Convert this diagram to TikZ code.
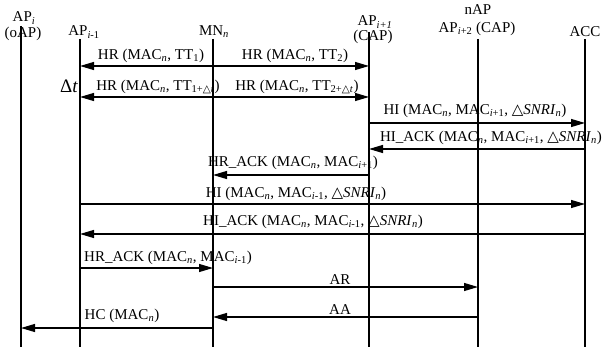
\documentclass[tikz,border=0pt]{standalone}
\usepackage{fontspec}
\setmainfont{Liberation Serif}
\newfontfamily\symf{DejaVu Sans}
\usetikzlibrary{arrows.meta}
\newcommand\lo[1]{\textsubscript{#1}}
\newcommand\tri{{\symf △}}
\begin{document}
\begin{tikzpicture}[x=1pt,y=-1pt,
  font=\fontsize{15}{17}\selectfont,
  life/.style={line width=1.1pt},
  msg/.style={line width=1.1pt,-{Triangle[length=14pt,width=8pt]}},
  bimsg/.style={line width=1.1pt,{Triangle[length=14pt,width=8pt]}-{Triangle[length=14pt,width=8pt]}},
  lbl/.style={inner sep=0pt},
  head/.style={inner sep=0pt}]
\useasboundingbox (0,0) rectangle (608,350);
% lifeline heads
\node[head] (hAi) at (24,18) {AP\lo{\textit{i}}};
\node[head] (hAi2) at (23,34) {(oAP)};
\node[head] (hAim) at (84,32) {AP\lo{\textit{i}-1}};
\node[head] (hMN) at (214,32) {MN\lo{\textit{n}}};
\node[head] (hAip) at (375,22) {AP\lo{\textit{i+1}}};
\node[head] (hAip2) at (373,37) {(CAP)};
\node[head] (hnAP) at (478,10) {nAP};
\node[head] (hnAP2) at (477,29) {AP\lo{\textit{i}+2} (CAP)};
\node[head] (hACC) at (585,32) {ACC};
% lifelines
\coordinate (Ai) at (21,26);   \coordinate (Aib) at (21,347);
\coordinate (Aim) at (80,39);  \coordinate (Aimb) at (80,347);
\coordinate (MN) at (213,39);  \coordinate (MNb) at (213,347);
\coordinate (Aip) at (369,32); \coordinate (Aipb) at (369,347);
\coordinate (nAP) at (478,39); \coordinate (nAPb) at (478,347);
\coordinate (ACC) at (585,39); \coordinate (ACCb) at (585,347);
\draw[life] (Ai) -- (Aib);
\draw[life] (Aim) -- (Aimb);
\draw[life] (MN) -- (MNb);
\draw[life] (Aip) -- (Aipb);
\draw[life] (nAP) -- (nAPb);
\draw[life] (ACC) -- (ACCb);
% rows
\coordinate (r1) at (0,66);
\coordinate (r2) at (0,97);
\coordinate (r3) at (0,123);
\coordinate (r4) at (0,149);
\coordinate (r5) at (0,175);
\coordinate (r6) at (0,204);
\coordinate (r7) at (0,234);
\coordinate (r8) at (0,268);
\coordinate (r9) at (0,287);
\coordinate (r10) at (0,317);
\coordinate (r11) at (0,328);
% messages
\draw[bimsg] (Aim |- r1) -- (Aip |- r1);
\node[lbl] (l1a) at (151,56) {HR (MAC\lo{\textit{n}}, TT\lo{1})};
\node[lbl] (l1b) at (295,56) {HR (MAC\lo{\textit{n}}, TT\lo{2})};
\draw[bimsg] (Aim |- r2) -- (Aip |- r2);
\node[lbl] (dt) at (69,86) {\fontsize{19}{21}\selectfont Δ\textit{t}};
\node[lbl] (l2a) at (158,87) {HR (MAC\lo{\textit{n}}, TT\lo{1+{\symf△}\textit{t}})};
\node[lbl] (l2b) at (297,87) {HR (MAC\lo{\textit{n}}, TT\lo{2+{\symf△}\textit{t}})};
\draw[msg] (Aip |- r3) -- (ACC |- r3);
\node[lbl] (l3) at (475,111) {HI (MAC\lo{\textit{n}}, MAC\lo{\textit{i}+1}, \tri\textit{SNRI}\lo{\textit{n}})};
\draw[msg] (ACC |- r4) -- (Aip |- r4);
\node[lbl] (l4) at (491,138) {HI\_ACK (MAC\lo{\textit{n}}, MAC\lo{\textit{i}+1}, \tri\textit{SNRI}\lo{\textit{n}})};
\draw[msg] (Aip |- r5) -- (MN |- r5);
\node[lbl] (l5) at (293,163) {HR\_ACK (MAC\lo{\textit{n}}, MAC\lo{\textit{i}+1})};
\draw[msg] (Aim |- r6) -- (ACC |- r6);
\node[lbl] (l6) at (296,194) {HI (MAC\lo{\textit{n}}, MAC\lo{\textit{i}-1}, \tri\textit{SNRI}\lo{\textit{n}})};
\draw[msg] (ACC |- r7) -- (Aim |- r7);
\node[lbl] (l7) at (313,222) {HI\_ACK (MAC\lo{\textit{n}}, MAC\lo{\textit{i}-1}, \tri\textit{SNRI}\lo{\textit{n}})};
\draw[msg] (Aim |- r8) -- (MN |- r8);
\node[lbl] (l8) at (168,258) {HR\_ACK (MAC\lo{\textit{n}}, MAC\lo{\textit{i}-1})};
\draw[msg] (MN |- r9) -- (nAP |- r9);
\node[lbl] (l9) at (340,280) {AR};
\draw[msg] (nAP |- r10) -- (MN |- r10);
\node[lbl] (l10) at (340,310) {AA};
\draw[msg] (MN |- r11) -- (Ai |- r11);
\node[lbl] (l11) at (122,316) {HC (MAC\lo{\textit{n}})};
\end{tikzpicture}
\end{document}
